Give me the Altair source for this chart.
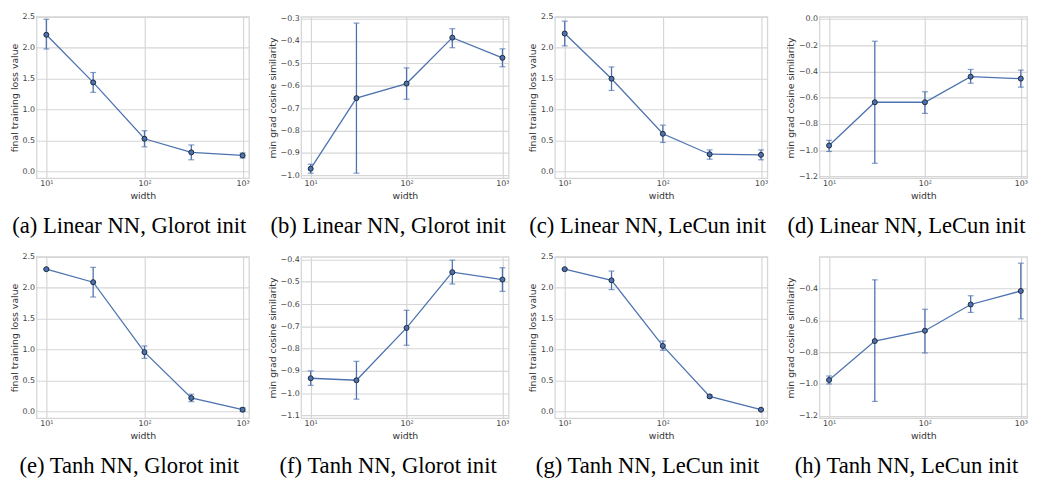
import altair as alt
import pandas as pd

widths = [10, 30, 100, 300, 1000]

a_mean = [2.21, 1.44, 0.53, 0.31, 0.26]
a_lo = [1.98, 1.28, 0.40, 0.19, 0.22]
a_hi = [2.46, 1.60, 0.66, 0.43, 0.30]

b_mean = [-0.97, -0.655, -0.59, -0.385, -0.475]
b_lo = [-0.99, -0.99, -0.66, -0.43, -0.515]
b_hi = [-0.95, -0.32, -0.52, -0.345, -0.435]

c_mean = [2.23, 1.50, 0.61, 0.28, 0.27]
c_lo = [2.03, 1.31, 0.47, 0.20, 0.19]
c_hi = [2.43, 1.69, 0.75, 0.35, 0.35]

d_mean = [-0.965, -0.635, -0.635, -0.44, -0.455]
d_lo = [-1.01, -1.10, -0.72, -0.49, -0.52]
d_hi = [-0.925, -0.17, -0.555, -0.385, -0.39]

e_mean = [2.30, 2.09, 0.96, 0.22, 0.03]
e_lo = [2.29, 1.85, 0.86, 0.16, 0.00]
e_hi = [2.31, 2.33, 1.06, 0.28, 0.06]

f_mean = [-0.933, -0.942, -0.707, -0.457, -0.49]
f_lo = [-0.965, -1.027, -0.785, -0.51, -0.543]
f_hi = [-0.90, -0.857, -0.628, -0.403, -0.437]

g_mean = [2.30, 2.12, 1.06, 0.245, 0.03]
g_lo = [2.29, 1.97, 0.99, 0.22, 0.02]
g_hi = [2.31, 2.27, 1.14, 0.27, 0.04]

h_mean = [-0.975, -0.73, -0.665, -0.50, -0.415]
h_lo = [-1.0, -1.11, -0.805, -0.55, -0.59]
h_hi = [-0.95, -0.345, -0.53, -0.445, -0.24]

captions = [
    "(a) Linear NN, Glorot init", "(b) Linear NN, Glorot init",
    "(c) Linear NN, LeCun init", "(d) Linear NN, LeCun init",
    "(e) Tanh NN, Glorot init", "(f) Tanh NN, Glorot init",
    "(g) Tanh NN, LeCun init", "(h) Tanh NN, LeCun init",
]

LOSS = "final training loss value"
COS = "min grad cosine similarity"
loss_ticks = [0.0, 0.5, 1.0, 1.5, 2.0, 2.5]

BLUE = "#4c72b0"


def panel(mean, lo, hi, caption, ytitle, ydom, yticks, w):
    df = pd.DataFrame({"width": widths, "mean": mean, "lo": lo, "hi": hi})
    x = alt.X(
        "width:Q",
        scale=alt.Scale(type="log", domain=[10 ** 0.9, 10 ** 3.065], nice=False),
        axis=alt.Axis(
            values=[10, 100, 1000],
            title="width",
            labelExpr="datum.value == 10 ? '10\u00b9' : (datum.value == 100 ? '10\u00b2' : '10\u00b3')",
        ),
    )
    ysc = alt.Scale(domain=ydom, nice=False, zero=False)
    yax = alt.Axis(values=yticks, format=".1f", title=ytitle)
    base = alt.Chart(df)
    line = base.mark_line(color=BLUE, strokeWidth=1.3).encode(
        x=x, y=alt.Y("mean:Q", scale=ysc, axis=yax)
    )
    rule = base.mark_rule(color=BLUE, strokeWidth=1.3).encode(
        x=x, y=alt.Y("lo:Q", scale=ysc, axis=yax), y2="hi:Q"
    )
    cap_lo = base.mark_tick(color=BLUE, orient="horizontal", size=6, thickness=1.2).encode(
        x=x, y=alt.Y("lo:Q", scale=ysc, axis=yax)
    )
    cap_hi = base.mark_tick(color=BLUE, orient="horizontal", size=6, thickness=1.2).encode(
        x=x, y=alt.Y("hi:Q", scale=ysc, axis=yax)
    )
    pts = base.mark_point(
        shape="circle", filled=True, fill=BLUE, stroke="#1f2a3a", strokeWidth=1, size=26, opacity=1
    ).encode(x=x, y=alt.Y("mean:Q", scale=ysc, axis=yax))
    return alt.layer(rule, cap_lo, cap_hi, line, pts).properties(
        width=w,
        height=164,
        title=alt.TitleParams(
            text=caption,
            orient="bottom",
            anchor="middle",
            frame="bounds",
            font="Liberation Serif",
            fontSize=23,
            fontWeight="normal",
            color="black",
            offset=15,
        ),
    )


pa = panel(a_mean, a_lo, a_hi, captions[0], LOSS, [-0.106, 2.5], loss_ticks, 216)
pb = panel(b_mean, b_lo, b_hi, captions[1], COS, [-1.012, -0.292],
           [-1.0, -0.9, -0.8, -0.7, -0.6, -0.5, -0.4, -0.3], 211)
pc = panel(c_mean, c_lo, c_hi, captions[2], LOSS, [-0.106, 2.5], loss_ticks, 216)
pd_ = panel(d_mean, d_lo, d_hi, captions[3], COS, [-1.213, 0.016],
            [-1.2, -1.0, -0.8, -0.6, -0.4, -0.2, 0.0], 211)
pe = panel(e_mean, e_lo, e_hi, captions[4], LOSS, [-0.106, 2.5], loss_ticks, 216)
pf = panel(f_mean, f_lo, f_hi, captions[5], COS, [-1.112, -0.388],
           [-1.1, -1.0, -0.9, -0.8, -0.7, -0.6, -0.5, -0.4], 211)
pg = panel(g_mean, g_lo, g_hi, captions[6], LOSS, [-0.106, 2.5], loss_ticks, 216)
ph = panel(h_mean, h_lo, h_hi, captions[7], COS, [-1.215, -0.2],
           [-1.2, -1.0, -0.8, -0.6, -0.4], 211)

row1 = alt.hconcat(pa, pb, pc, pd_, spacing=16)
row2 = alt.hconcat(pe, pf, pg, ph, spacing=16)

chart = alt.vconcat(row1, row2, spacing=13).properties(padding=0).configure_view(
    stroke="#d6d6d6", strokeWidth=1.3
).configure_axis(
    grid=True,
    gridColor="#d6d6d6",
    gridWidth=1.2,
    domain=False,
    ticks=False,
    labelFont="DejaVu Sans",
    labelFontSize=8,
    labelColor="#444444",
    labelPadding=2,
    titleFont="DejaVu Sans",
    titleFontSize=9.5,
    titleFontWeight="normal",
    titleColor="#333333",
    titlePadding=3,
).configure_concat(spacing=16)

chart.save("out.html", embed_options={"renderer": "svg", "actions": False})
